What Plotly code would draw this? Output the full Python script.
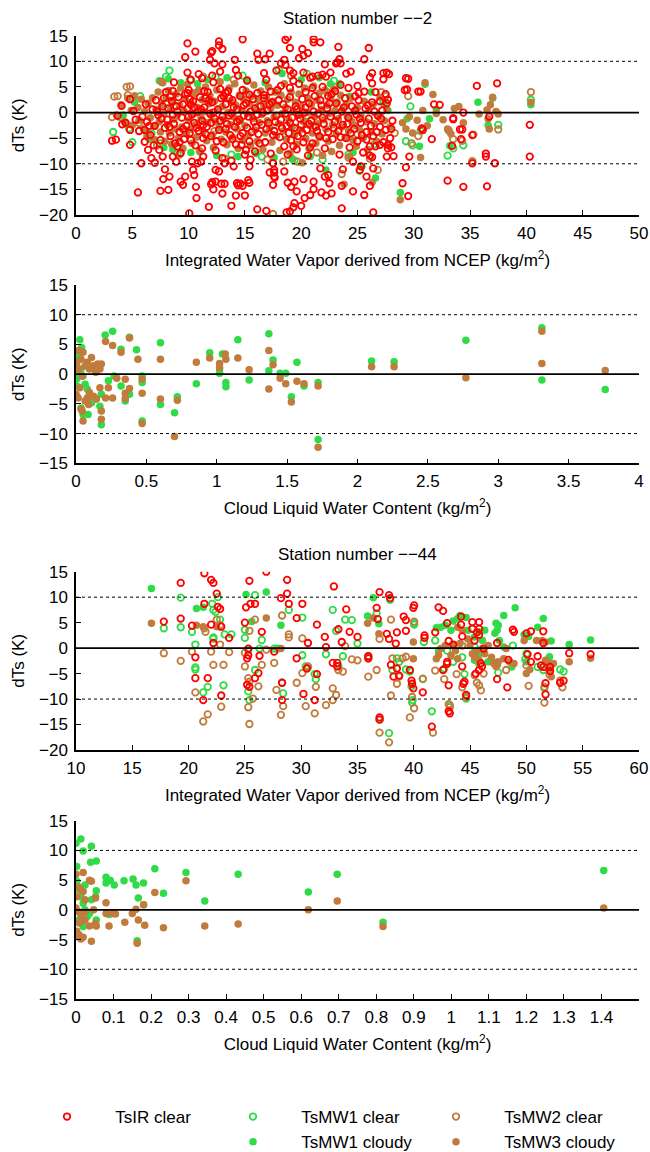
import plotly.graph_objects as go

# ---------------- DATA ----------------
# Station 2 : dTs vs Integrated Water Vapor (kg/m2)
s2_iwv_ir_clear = [
 (9.9,13.5),(12.7,13.9),(12.7,13.1),(14.8,14.3),(10.6,11.9),(9.7,10.8),(12.0,11.7),(12.1,12.0),(13.0,12.4),(14.1,10.3),
 (16.1,11.5),(16.2,10.3),(17.2,11.5),(16.8,10.4),(11.9,10.3),(12.3,9.6),(13.0,9.4),(12.8,8.0),(14.2,8.3),(14.4,7.2),
 (15.2,6.25),(10.9,7.5),(11.2,6.7),(9.9,7.8),(10.2,6.4),(12.1,7.2),(12.2,5.9),(8.7,5.9),(8.6,4.2),(8.4,3.1),
 (9.9,3.8),(10.1,2.6),(10.2,1.5),(11.4,4.2),(11.5,2.8),(12.8,4.6),(13.3,3.8),(13.6,2.8),(14.8,4.4),(15.4,3.5),
 (16.1,3.8),(16.7,2.8),(17.3,4.1),(16.7,7.7),(16.9,6.4),(4.05,1.3),(3.7,-0.65),(4.1,-2.3),(3.2,-5.5),(3.55,-5.3),
 (4.8,-3.4),(4.8,-6.3),(5.5,-15.6),(5.8,-9.9),(6.1,-3.4),(6.1,-5.7),(6.4,-7.3),(6.7,-8.9),(7.0,-9.8),(7.4,-7.3),
 (7.7,-8.6),(7.5,-15.3),(7.75,-13.0),(7.9,-11.1),(8.3,-12.5),(8.2,-15.1),(8.6,-8.6),(8.9,-9.6),(9.0,-6.6),(9.3,-7.9),
 (9.3,-13.5),(9.5,-14.1),(9.7,-12.5),(10.06,-19.7),(10.4,-11.2),(10.5,-12.2),(10.65,-14.5),(10.3,-9.6),(10.8,-9.9),(10.7,-16.7),
 (11.1,-9.6),(11.2,-7.0),(11.3,-8.6),(11.8,-18.4),(12.0,-14.0),(12.1,-13.6),(12.2,-15.0),(12.4,-13.5),(12.4,-11.2),(12.7,-11.5),
 (12.9,-13.9),(13.2,-13.9),(13.0,-15.8),(13.0,-8.9),(13.2,-9.9),(13.8,-9.4),(14.0,-10.5),(13.8,-18.2),(14.2,-16.2),(14.3,-13.8),
 (14.4,-14.2),(14.6,-13.9),(14.8,-14.3),(15.0,-16.2),(15.3,-13.2),(15.4,-13.7),(15.5,-9.2),(15.4,-10.5),(16.1,-18.9),(16.9,-19.2),
 (17.5,-9.9),(17.6,-11.2),(17.6,-12.5),(14.7,-6.3),(15.1,-7.3),
 (18.6,14.2),(18.8,14.7),(21.1,14.3),(21.1,13.7),(21.7,13.7),(23.3,12.8),(26.0,12.6),(19.0,12.6),(20.1,12.4),(20.2,11.1),
 (18.5,10.3),(18.2,9.6),(18.6,9.3),(22.1,9.4),(23.1,9.6),(23.4,10.4),(23.5,9.6),(25.6,10.4),(17.8,8.2),(19.0,8.2),
 (19.3,7.7),(20.2,7.8),(22.6,7.8),(22.2,7.0),(21.0,7.0),(21.9,7.4),(26.3,7.7),(26.1,6.9),(26.3,5.7),(27.3,7.7),
 (27.6,7.8),(27.3,6.5),(29.3,6.7),(29.2,4.4),(30.4,4.1),(25.0,5.2),(25.1,3.8),(25.6,4.1),(27.5,3.6),(27.7,2.5),
 (32.3,1.5),(33.5,-1.3),(34.4,0.0),(30.7,-3.1),(30.8,-3.4),(31.6,-5.2),(33.4,-6.5),(34.3,-3.3),(34.2,-5.2),(29.3,-10.7),
 (29.0,-13.8),(29.5,-16.3),(33.0,-13.3),(34.4,-14.5),(26.1,-14.3),(26.4,-19.5),(25.6,-16.1),(24.6,-15.4),(23.6,-18.7),
 (17.2,-11.7),(17.6,-11.7),(17.65,-12.7),(17.5,-14.1),(18.5,-11.5),(18.8,-13.7),(19.1,-14.5),(19.6,-15.4),(19.4,-13.5),(20.2,-13.0),
 (19.4,-17.7),(19.3,-18.5),(18.7,-19.5),(19.0,-19.3),(20.0,-18.2),(20.3,-16.7),(20.8,-16.1),(21.1,-14.96),(21.8,-15.6),(22.2,-16.2),
 (22.7,-15.76),(21.1,-13.5),(21.7,-10.9),(22.1,-12.5),(22.4,-12.2),(22.5,-13.8),(23.6,-14.3),(23.7,-11.1),(24.6,-9.6),(25.2,-11.2),
 (25.3,-10.5),(25.8,-12.5),(26.4,-10.9),(26.3,-8.7),(27.6,-8.6),(27.7,-6.3),(27.0,-6.3),(26.1,-6.6),(25.8,-5.3),
 (35.6,5.2),(37.4,5.7),(40.3,-2.4),(40.3,-8.6),(33.5,-1.1),(34.1,-3.3),(35.2,-4.4),(35.2,-9.9),(36.4,-8.0),(36.4,-8.6),
 (36.5,-14.4),(37.2,-9.9),(36.7,-0.8),
 (19.8,10.6),(20.6,11.6),(19.3,6.2),(20.8,6.8),(21.5,7.2),(23.2,9.8),(24.0,7.6),(24.4,8.0),(23.5,5.4),(28.0,-6.8),
 (28.2,-8.5),(29.6,-8.6),(29.4,4.5),(29.5,6.6),(27.8,7.5),(30.6,4.1),(31.8,1.6),
 (4.4,-2.0),(4.8,2.6),(5.1,0.3),(5.3,-1.4),(5.6,-3.6),(5.9,-0.8),(6.2,1.6),(6.3,-1.8),(6.6,-4.4),(6.8,0.6),
 (7.0,-2.6),(7.1,2.4),(7.3,-0.5),(7.5,-5.4),(7.7,1.2),(7.9,-3.0),(8.0,4.0),(8.1,-1.4),(8.2,0.8),(8.4,-4.6),
 (8.5,2.2),(8.7,-2.2),(8.8,-6.0),(9.0,0.2),(9.1,3.0),(9.2,-3.8),(9.4,-1.0),(9.5,1.6),(9.6,-5.2),(9.8,-2.6),
 (9.9,0.8),(10.0,4.4),(10.1,-4.0),(10.3,-0.4),(10.4,2.2),(10.5,-2.0),(10.6,-6.4),(10.8,0.2),(10.9,-3.6),(11.0,3.0),
 (11.2,-1.6),(11.3,-5.0),(11.4,1.0),(11.6,-2.8),(11.7,4.0),(11.9,-0.2),(12.0,-4.6),(12.1,2.0),(12.3,-1.2),(12.4,-7.4),
 (12.6,0.6),(12.7,-3.4),(12.9,2.8),(13.0,-0.8),(13.1,-5.8),(13.3,1.6),(13.4,-2.2),(13.5,4.2),(13.7,-4.4),(13.8,-0.2),
 (13.9,2.4),(14.1,-2.8),(14.2,-6.2),(14.3,0.6),(14.5,-1.4),(14.6,3.2),(14.8,-4.0),(14.9,-0.6),(15.1,1.8),(15.2,-3.0),
 (15.4,-5.6),(15.5,0.2),(15.7,2.6),(15.8,-1.8),(15.9,-7.6),(16.1,-0.4),(16.2,-4.2),(16.4,1.2),(16.5,-2.4),(16.7,3.4),
 (16.8,-5.8),(17.0,0.4),(17.1,-2.0),(17.3,-8.0),(17.4,2.0),(17.6,-3.6),(17.8,-0.6),(17.9,4.4),(18.1,-4.8),(18.2,-1.4),
 (18.4,1.6),(18.5,-6.6),(18.7,-2.6),(18.8,0.6),(18.9,-4.0),(19.0,3.0),(19.1,-5.4),(19.2,-1.0),(19.4,-3.0),(19.5,1.2),
 (19.6,-7.2),(19.7,-4.6),(19.8,-0.4),(20.0,-2.4),(20.1,2.6),(20.2,-5.8),(20.3,0.0),(20.5,-3.4),(20.6,-8.4),(20.7,1.8),
 (20.9,-1.6),(21.0,-6.0),(21.2,3.2),(21.3,-2.8),(21.5,-0.2),(21.6,-4.6),(21.8,1.4),(22.0,-2.2),(22.1,-7.0),(22.3,0.8),
 (22.4,-3.8),(22.6,-0.8),(22.7,3.6),(22.8,-5.2),(23.0,-1.8),(23.1,1.8),(23.3,-3.6),(23.4,-8.2),(23.6,0.2),(23.7,-2.4),
 (23.9,2.8),(24.0,-5.0),(24.2,-1.0),(24.3,-6.8),(24.5,1.2),(24.7,-3.2),(24.9,-0.4),(25.0,-5.6),(25.1,2.4),(25.3,-2.0),
 (25.5,-7.8),(25.7,0.8),(25.8,-3.8),(26.0,-1.2),(26.1,-8.4),(26.3,2.0),(26.4,-4.6),(26.6,-6.6),(26.8,-0.6),(27.0,-2.8),
 (27.2,0.4),(27.5,-3.4),(27.7,-7.0),(27.9,-5.0),(28.1,-1.6),
 (6.5,-2.6),(6.9,-6.4),(7.2,0.2),(7.6,-1.2),(7.8,2.8),(8.3,-2.8),(8.6,-0.4),(8.9,1.2),(9.2,-5.8),(9.5,-3.2),
 (9.7,3.6),(10.0,-0.8),(10.2,-5.4),(10.5,1.0),(10.7,-3.0),(11.1,0.6),(11.3,-2.4),(11.5,-4.2),(11.8,2.4),(12.0,-2.0),
 (12.2,0.0),(12.5,-5.6),(12.8,-1.6),(13.1,3.2),(13.3,-3.2),(13.6,-0.6),(13.9,-5.2),(14.0,1.0),(14.3,-1.8),(14.6,-4.6),
 (14.9,1.4),(15.0,-8.2),(15.3,-0.8),(15.6,-3.8),(15.9,0.8),(16.0,-2.8),(16.3,-6.0),(16.6,0.0),(16.9,-3.2),(17.2,1.6),
 (17.5,-4.4),(17.7,-1.8),(18.0,2.4),(18.3,-3.0),(18.6,-0.2),(18.8,-8.2),(19.0,-2.0),(19.3,-6.6),(19.6,0.6),(19.9,-1.2),
 (20.1,-4.0),(20.4,1.0),(20.7,-2.2),(20.8,-6.8),(21.1,0.2),(21.4,-3.6),(21.7,2.4),(21.9,-1.0),(22.2,-5.0),(22.5,1.8),
 (22.9,-3.0),(23.2,-0.6),(23.5,-4.8),(23.8,1.0),(24.1,-2.2),(24.4,-4.0),(24.8,0.4),(25.2,-1.2),(25.4,-4.4),(25.9,1.4),
 (26.2,-2.6),(26.5,0.2),(26.7,-3.8),(27.1,-1.2),(27.3,-5.8),(27.6,1.8),(28.0,-3.2),
 (18.2,5.2),(19.0,4.8),(19.8,5.6),(20.4,4.0),(21.0,4.8),(21.9,5.0),(22.4,3.2),(23.0,4.2),(24.2,4.8),(24.8,3.2),
 (26.6,4.0),(27.0,2.2),
]
s2_iwv_mw1_clear = [
 (3.3,-3.8),(3.9,-0.9),(4.7,-3.1),(5.0,-5.8),(5.7,3.2),(6.7,-4.1),(7.5,-6.0),(8.3,8.2),(8.0,7.0),(9.0,-8.0),
 (10.1,6.4),(11.0,-7.6),(12.4,7.0),(13.8,-8.2),(14.8,7.2),(16.5,-8.6),(18.0,8.4),(19.4,-9.4),(20.5,7.6),(21.9,-9.2),
 (22.9,6.2),(24.2,-8.2),(25.2,-11.4),(26.5,-6.2),(27.3,2.0),(29.3,-5.6),(29.7,1.2),(29.9,-6.4),(30.6,-3.6),(33.0,-8.4),
 (33.5,-7.0),(34.4,-6.4),(37.5,-2.4),(40.4,2.5),
]
s2_iwv_mw2_clear = [
 (3.2,-0.9),(3.4,3.1),(3.7,3.2),(4.5,5.0),(4.8,5.1),(4.6,3.4),(5.6,-2.0),(6.4,-4.4),(7.2,-6.4),(7.6,6.0),
 (8.4,3.4),(9.2,-8.2),(10.6,3.8),(11.3,7.0),(12.3,-3.6),(13.2,-9.0),(14.0,6.4),(15.1,-7.4),(16.2,1.2),(17.0,-9.2),
 (17.5,-19.8),(18.4,-9.6),(19.1,7.2),(19.7,-9.6),(20.5,-0.6),(21.4,-7.8),(22.3,4.0),(23.6,-12.0),(24.2,-8.8),(25.0,-4.2),
 (26.1,-9.0),(26.8,-11.2),(27.1,4.0),(27.5,3.2),(28.3,-4.0),(29.5,3.2),(29.8,-6.0),(30.4,-4.6),(33.1,-3.5),(33.5,-5.2),
 (34.3,-5.5),(35.2,-9.5),(35.3,-4.3),(37.5,-3.3),(40.4,4.0),
]
s2_iwv_mw1_cloudy = [
 (4.2,-0.5),(5.2,2.0),(6.5,-5.2),(7.4,6.2),(7.8,-6.8),(8.2,6.6),(8.6,-7.2),(9.3,5.8),(10.2,-7.8),(10.8,5.6),
 (11.7,6.4),(12.5,-8.4),(13.4,6.8),(14.4,-8.6),(15.2,6.2),(16.0,-8.0),(16.8,5.8),(17.6,-8.8),(18.3,7.6),(19.2,-9.0),
 (20.0,6.4),(20.8,-8.6),(21.6,6.8),(22.2,-11.2),(22.6,5.6),(23.4,5.6),(24.3,3.2),(24.6,-7.8),(25.4,-10.6),(26.2,4.0),
 (26.6,-12.8),(27.4,1.6),(27.7,0.4),(28.8,-15.6),(29.4,-1.2),(30.5,-6.6),(31.0,5.5),(31.4,-1.2),(32.0,0.6),(33.2,-6.5),
 (35.7,2.0),(36.6,-2.5),(37.0,2.8),(40.4,1.5),
]
s2_iwv_mw3_cloudy = [
 (3.6,-0.5),(4.0,1.5),(4.3,-1.8),(4.6,2.8),(4.9,0.4),(5.0,-2.5),(5.2,3.3),(5.5,1.0),(5.6,-1.5),(5.8,2.6),
 (6.0,-3.2),(6.1,0.2),(6.3,-4.6),(6.4,1.8),(6.6,-1.0),(6.8,2.9),(6.9,-2.7),(7.0,-5.3),(7.1,0.6),(7.3,4.0),
 (7.4,-1.8),(7.5,-3.8),(7.6,1.5),(7.7,5.8),(7.8,-0.3),(7.9,-5.6),(8.0,2.8),(8.1,-2.4),(8.2,4.3),(8.3,-4.0),
 (8.4,0.8),(8.5,-6.2),(8.6,2.0),(8.7,-1.3),(8.8,-3.2),(8.9,3.6),(9.0,-0.5),(9.1,-5.0),(9.2,1.4),(9.3,4.8),
 (9.4,-2.8),(9.5,-7.0),(9.6,0.3),(9.7,2.7),(9.8,-4.2),(9.9,5.5),(10.0,-1.5),(10.1,-3.3),(10.2,1.9),(10.3,-6.0),
 (10.4,3.8),(10.5,-0.2),(10.6,-2.4),(10.7,-4.8),(10.8,1.0),(10.9,4.4),(11.0,-7.5),(11.1,-1.0),(11.2,2.5),(11.3,-3.6),
 (11.4,0.2),(11.5,5.0),(11.6,-5.5),(11.7,-2.0),(11.8,1.7),(11.9,3.3),(12.0,-0.6),(12.1,-4.3),(12.2,-6.8),(12.3,2.2),
 (12.4,-1.8),(12.5,4.4),(12.6,0.5),(12.7,-3.0),(12.8,6.0),(12.9,-5.2),(13.0,1.2),(13.1,-1.3),(13.2,3.0),(13.3,-3.8),
 (13.4,-6.3),(13.5,0.0),(13.6,4.8),(13.7,-2.4),(13.8,2.0),(13.9,-4.8),(14.0,-0.8),(14.1,5.6),(14.2,1.4),(14.3,-3.2),
 (14.4,-7.0),(14.5,3.4),(14.6,-1.6),(14.7,0.4),(14.8,-5.4),(14.9,2.6),(15.0,-2.6),(15.1,4.2),(15.2,-0.2),(15.3,-4.4),
 (15.4,1.8),(15.5,-6.4),(15.6,3.2),(15.7,-1.2),(15.8,5.4),(15.9,-3.4),(16.0,0.6),(16.1,-5.6),(16.2,2.4),(16.3,-2.0),
 (16.4,4.2),(16.5,-0.4),(16.6,-7.2),(16.7,1.4),(16.8,-4.0),(16.9,3.0),(17.0,-1.6),(17.1,5.0),(17.2,-3.0),(17.3,0.8),
 (17.4,-5.8),(17.5,2.2),(17.6,-0.8),(17.7,4.0),(17.8,-4.6),(17.9,1.4),(18.0,-2.2),(18.1,-7.4),(18.2,3.4),(18.3,-0.2),
 (18.4,-3.6),(18.5,5.6),(18.6,1.0),(18.7,-5.2),(18.8,2.6),(18.9,-1.4),(19.0,-8.0),(19.1,4.0),(19.2,-2.8),(19.3,0.4),
 (19.4,-4.4),(19.5,2.0),(19.6,-6.2),(19.7,-0.6),(19.8,3.6),(19.9,-3.4),(20.0,1.2),(20.1,-9.8),(20.2,-1.8),(20.3,4.8),
 (20.4,-5.0),(20.5,0.0),(20.6,2.8),(20.7,-7.0),(20.8,-2.6),(20.9,1.6),(21.0,-4.0),(21.1,5.2),(21.2,-0.8),(21.3,-6.0),
 (21.4,2.4),(21.5,-2.2),(21.6,3.8),(21.7,-4.8),(21.8,0.6),(21.9,-8.4),(22.0,-1.4),(22.1,4.4),(22.2,-3.2),(22.3,1.4),
 (22.4,-5.6),(22.5,-0.2),(22.6,2.8),(22.7,-7.6),(22.8,-2.4),(22.9,4.6),(23.0,0.4),(23.1,-4.2),(23.2,2.0),(23.3,-1.2),
 (23.4,-6.4),(23.5,3.4),(23.6,-2.8),(23.7,0.8),(23.8,-14.0),(23.9,-4.8),(24.0,1.6),(24.1,-0.8),(24.2,-3.6),(24.3,-8.6),
 (24.4,2.8),(24.5,-1.8),(24.6,-5.4),(24.7,0.2),(24.8,-2.6),(24.9,-6.6),(25.0,1.0),(25.2,-3.4),(25.3,-0.6),(25.5,-5.0),
 (25.6,2.2),(25.8,-1.8),(25.9,-7.2),(26.0,0.4),(26.2,-3.8),(26.3,-13.6),(26.4,1.6),(26.5,-2.2),(26.7,-5.6),(26.9,-0.8),
 (27.0,3.0),(27.2,-4.2),(27.4,-1.6),(27.6,0.6),(27.8,-6.4),(27.9,-2.8),(28.8,-17.0),(29.0,-2.0),(29.3,-3.2),(29.6,-0.8),
 (29.9,-4.0),(30.3,-1.5),(30.6,-8.8),(30.8,0.4),(31.0,5.8),(31.2,-2.6),(31.7,3.5),(32.0,-0.2),(32.6,-1.4),(33.0,-3.2),
 (33.3,-4.2),(33.6,0.8),(34.0,1.2),(34.4,-2.0),(35.8,-0.3),(36.5,0.5),(36.6,-1.2),(36.7,-3.2),(36.8,1.5),(37.0,3.0),
 (37.3,0.2),(37.5,-0.3),(40.4,2.0),
]

# Station 2 : dTs vs Cloud Liquid Water Content (kg/m2)
s2_clw_mw1_cloudy = [
 (0.015,3.4),(0.027,5.8),(0.04,4.5),(0.0,1.4),(0.006,0.3),(0.006,-0.8),(0.006,-2.0),(0.006,-3.7),(0.02,2.5),(0.036,0.85),
 (0.05,-0.3),(0.065,-1.7),(0.08,-2.5),(0.095,-3.7),(0.11,-4.8),(0.036,-5.7),(0.05,-6.8),(0.086,-6.8),(0.17,-5.4),(0.18,-8.5),
 (0.207,6.6),(0.26,7.2),(0.32,4.2),(0.14,-4.2),(0.18,-3.4),(0.23,-1.1),(0.27,-0.3),(0.32,-2.0),(0.35,-4.5),(0.38,6.2),
 (0.43,4.1),(0.47,-0.3),(0.47,-1.4),(0.47,-7.9),(0.38,-3.4),(0.6,5.3),(0.6,-5.1),(0.70,-6.5),(0.72,-3.8),(0.855,-1.6),
 (0.95,3.6),(1.02,0.74),(1.02,0.17),(1.04,3.4),(1.065,-1.4),(1.065,-2.1),(1.15,5.8),(1.23,-1.0),(1.37,6.8),(1.37,0.57),
 (1.40,2.4),(1.45,0.17),(1.49,0.17),(1.53,-3.8),(1.57,2.0),(1.62,-2.0),(1.72,-1.4),(1.72,-11.0),(2.10,2.2),(2.26,2.1),
 (2.77,5.7),(3.31,7.8),(3.31,-1.0),(3.76,-2.6),
]
s2_clw_mw3_cloudy = [
 (0.0,-3.4),(0.015,-4.0),(0.027,-2.3),(0.044,-0.3),(0.02,0.85),(0.006,2.0),(0.036,2.5),(0.05,3.7),(0.065,1.4),(0.08,2.0),
 (0.095,0.85),(0.11,2.8),(0.124,1.4),(0.14,0.3),(0.154,1.7),(0.17,0.85),(0.18,1.7),(0.02,4.0),(0.036,-5.9),(0.044,-6.2),
 (0.05,-7.9),(0.065,-4.5),(0.08,-4.0),(0.095,-3.1),(0.09,-5.1),(0.124,-3.7),(0.145,-4.2),(0.17,-2.3),(0.18,-6.2),(0.18,-7.6),
 (0.21,5.5),(0.21,-4.0),(0.26,4.8),(0.26,-4.0),(0.23,-2.3),(0.29,-0.7),(0.32,3.7),(0.35,-0.85),(0.35,-3.2),(0.35,-4.1),
 (0.38,6.1),(0.38,-2.4),(0.44,2.5),(0.47,-0.85),(0.47,-3.2),(0.47,-8.3),(0.6,2.5),(0.6,-4.2),(0.70,-10.5),(0.72,-4.4),
 (0.855,2.0),(0.95,2.7),(1.02,1.8),(1.02,1.1),(1.06,3.4),(1.065,2.5),(1.15,2.7),(1.23,0.74),(1.37,4.0),(1.37,-2.5),
 (1.40,1.6),(1.45,-0.7),(1.49,-1.6),(1.53,-4.7),(1.57,-1.2),(1.62,-1.6),(1.72,-2.0),(1.72,-12.3),(2.10,1.25),(2.26,1.25),
 (2.77,-0.6),(3.31,7.2),(3.31,1.8),(3.76,0.6),
]

# Station 44 : dTs vs Integrated Water Vapor (kg/m2)
s44_iwv_ir_clear = [
 (19.3,12.8),(17.8,5.2),(19.3,5.8),(20.3,4.4),(20.6,-1.8),(20.6,-5.9),(21.4,14.7),(21.4,8.7),(22.0,13.4),(22.2,12.8),
 (22.5,10.7),(22.6,8.1),(22.8,7.7),(22.0,4.6),(22.2,1.0),(21.7,-5.9),(21.3,-10.2),(22.9,4.2),(23.6,2.0),(22.9,-9.3),
 (25.0,5.0),(25.4,13.2),(25.5,8.7),(25.9,8.7),(25.1,8.0),(25.3,-0.1),(25.3,-1.4),(25.2,-2.0),(25.2,-7.2),(25.4,-7.6),
 (25.9,-5.9),(26.2,-4.9),(26.3,-1.5),(26.5,3.2),(26.9,15.0),(28.75,13.4),(28.75,10.7),(28.2,9.8),(28.9,8.7),(27.6,-0.7),
 (28.3,-6.8),(28.3,-10.2),(29.6,5.9),(29.6,-2.0),(30.1,8.7),(30.5,-4.0),(30.2,-9.0),(30.6,1.0),(31.4,4.6),(31.4,-5.1),
 (31.2,-10.2),(32.1,2.2),(32.2,0.2),(32.9,12.1),(32.8,-2.9),(33.2,-2.9),(33.2,-3.6),(33.3,3.7),(34.0,7.6),(33.6,1.2),
 (34.3,3.2),(35.0,2.2),(35.96,-1.6),(35.96,-2.0),(36.7,7.9),(36.8,5.7),(36.96,11.0),(36.96,-13.6),(36.96,-14.0),(37.6,2.8),
 (37.8,1.8),(37.8,10.4),(37.9,9.8),(37.97,-3.3),(38.2,-5.6),(38.5,3.1),(38.4,0.9),(38.5,-4.0),(38.7,-5.4),(39.1,6.2),
 (39.3,5.5),(39.3,3.4),(39.65,-4.3),(39.8,-6.4),(39.85,-7.0),(39.96,-7.9),(40.03,8.4),(39.96,7.9),(40.8,-8.7),(40.95,2.5),
 (40.95,2.0),(41.6,-15.4),(41.9,3.1),(42.2,8.0),(42.6,7.3),(42.6,-4.3),(42.96,-2.7),(42.96,-3.1),(42.96,4.9),(43.1,1.4),
 (43.1,-7.3),(43.1,-12.4),(43.2,-12.8),(43.5,0.7),(44.2,6.2),(44.2,4.6),(44.3,2.3),(44.3,-3.6),(44.5,-6.6),(44.4,-7.0),
 (44.65,-9.2),(45.2,5.1),(45.2,3.8),(45.6,3.1),(45.4,1.5),(45.8,5.1),(45.8,3.8),(45.8,2.6),(45.5,-5.0),(45.8,-4.3),
 (45.96,-3.0),(46.06,-3.6),(46.2,-0.1),(47.4,1.0),(47.4,-6.1),(48.3,-7.7),(48.4,-2.3),(48.8,3.6),(48.9,3.2),(50.0,2.9),
 (50.4,3.3),(50.1,-1.2),(50.4,-2.7),(51.0,-1.6),(51.3,-3.4),(51.5,3.3),(51.5,1.0),(51.5,-3.7),(51.7,-6.9),(51.7,-9.1),
 (52.1,-3.7),(52.1,-4.5),(53.0,-6.8),(53.3,-6.4),(53.8,-1.0),(55.7,-1.2),
]
s44_iwv_mw1_clear = [
 (17.8,3.9),(19.3,9.9),(19.3,4.1),(20.3,3.2),(20.6,0.7),(20.6,-3.8),(20.6,-4.2),(21.3,-8.7),(21.7,-7.6),(22.1,8.7),
 (22.2,7.5),(22.4,7.1),(22.2,2.1),(22.2,1.8),(22.6,10.0),(22.8,5.6),(23.1,-7.3),(23.2,2.7),(23.8,2.7),(25.0,3.6),
 (25.0,2.0),(25.3,-0.4),(25.3,-8.5),(25.4,-10.2),(25.9,10.4),(25.9,-4.3),(26.3,-0.1),(26.5,1.6),(27.6,-0.1),(27.9,-0.1),
 (28.3,-6.8),(28.4,-8.9),(28.9,7.5),(30.1,6.0),(30.1,-1.4),(30.4,-3.6),(30.6,-3.8),(31.2,-5.1),(31.3,-6.1),(32.2,-1.2),
 (32.8,7.5),(33.1,3.4),(33.3,-3.5),(33.7,-1.6),(33.9,5.6),(34.5,5.5),(35.0,0.9),(35.96,-1.6),(35.96,-2.0),(36.7,6.8),
 (36.96,-14.1),(37.8,-16.7),(37.9,9.5),(38.1,-4.3),(38.5,-2.0),(38.7,-2.7),(39.3,-4.2),(39.65,-4.6),(39.8,-7.5),(39.85,-10.7),
 (39.9,-10.2),(40.03,4.9),(40.03,4.6),(40.8,-6.1),(40.9,1.2),(41.9,1.5),(41.6,-12.4),(42.7,-4.0),(42.96,-0.5),(43.2,-11.2),
 (43.5,-2.7),(44.3,-1.8),(44.5,-5.1),(44.65,-9.9),(45.4,0.2),(45.4,-1.1),(45.8,-3.0),(47.3,-2.9),(47.5,-4.8),(48.8,0.5),
 (49.9,-2.2),(50.0,-1.1),(51.0,-3.7),(51.5,-4.3),(51.6,-7.9),(53.0,-4.2),(53.3,-4.6),
]
s44_iwv_mw2_clear = [
 (17.8,-1.0),(19.3,-2.5),(20.3,-0.7),(20.6,-8.7),(21.3,-14.4),(21.7,-13.0),(21.4,3.9),(21.5,3.2),(22.0,-0.7),(22.2,-3.3),
 (22.5,5.6),(22.8,4.5),(22.8,0.7),(23.1,-3.3),(22.9,-11.5),(23.6,-0.8),(25.0,-0.9),(25.0,-3.6),(25.3,-5.9),(25.4,-6.6),
 (25.3,-11.6),(25.4,-14.9),(25.4,3.4),(25.9,5.6),(25.7,-9.9),(26.2,-7.5),(26.5,-3.3),(26.9,-0.3),(27.6,-2.9),(27.8,-8.2),
 (28.2,-13.1),(28.3,6.4),(28.4,-11.4),(28.9,2.7),(28.9,2.1),(29.6,-6.8),(30.1,1.9),(30.1,-4.9),(30.4,-11.4),(30.6,-3.6),
 (31.2,-12.8),(31.3,-7.6),(32.2,-11.2),(32.8,-7.9),(33.1,-9.2),(32.8,-10.2),(33.3,-4.3),(33.7,-4.6),(33.9,0.4),(34.5,-2.2),
 (35.0,-2.4),(35.96,-5.6),(36.7,-4.3),(36.96,1.8),(36.96,-16.6),(37.8,-18.5),(37.97,5.6),(37.97,-9.3),(38.1,-2.0),(38.5,-7.0),
 (38.7,-5.6),(39.0,-2.0),(39.3,-1.7),(39.65,-13.6),(39.85,-9.6),(40.03,5.2),(40.03,-11.8),(40.8,-6.0),(41.7,-16.6),(41.9,-4.4),
 (42.7,-6.1),(43.1,-11.0),(43.2,-11.6),(43.8,-5.1),(44.3,0.5),(44.3,-7.7),(44.65,-9.6),(45.4,-5.3),(45.6,-6.8),(45.8,-7.3),
 (45.96,-8.3),(46.2,-5.0),(47.4,-3.3),(48.2,-4.3),(50.0,-3.4),(50.2,-7.4),(51.6,-10.7),(51.6,-7.6),(52.05,-5.2),(53.0,-6.4),
 (53.2,-7.7),
]
s44_iwv_mw1_cloudy = [
 (16.7,11.7),(20.7,7.8),(21.3,8.0),(25.1,10.5),(26.9,11.0),(28.2,4.5),(25.6,5.2),(36.4,9.9),(35.9,6.3),(36.9,4.8),
 (42.0,4.0),(42.4,4.1),(42.8,4.5),(42.2,-0.5),(43.3,3.5),(43.5,5.3),(43.9,5.8),(44.1,6.4),(44.65,6.0),(44.8,3.5),
 (45.4,2.2),(45.8,3.2),(46.3,3.5),(46.1,1.5),(47.3,4.9),(47.5,4.5),(47.4,3.5),(47.2,2.9),(47.99,6.4),(49.0,7.9),
 (49.8,2.6),(50.2,2.3),(51.0,4.1),(51.5,5.8),(52.05,-1.7),(52.2,1.4),(53.8,0.7),(55.7,1.6),(50.0,-2.7),(45.4,-2.4),
 (45.8,-1.1),(46.6,-2.7),(47.6,1.5),(47.99,0.2),(48.7,-3.7),
]
s44_iwv_mw3_cloudy = [
 (16.7,4.9),(20.7,4.5),(21.3,4.2),(22.5,4.2),(26.9,5.9),(28.2,-0.1),(35.9,4.9),(36.4,5.9),(36.9,2.8),(39.96,1.2),
 (39.96,-2.1),(42.0,-2.1),(42.2,-1.4),(42.4,-0.1),(42.8,0.5),(43.3,-1.4),(43.5,0.5),(43.7,-0.5),(43.9,-2.1),(44.1,0.9),
 (43.9,4.1),(44.3,3.5),(44.8,1.8),(44.99,0.5),(45.2,-1.1),(45.4,-1.8),(45.6,-0.5),(45.8,-2.4),(46.1,-0.1),(46.3,-1.1),
 (46.6,0.5),(46.9,-1.8),(47.1,-3.0),(47.3,-3.6),(47.5,-2.7),(47.99,-2.1),(48.2,-0.1),(48.5,-2.7),(48.9,-3.0),(49.8,1.5),
 (50.0,-5.0),(50.3,-4.2),(50.9,1.5),(51.4,1.5),(51.7,1.2),(51.7,-2.4),(52.0,-3.0),(52.1,-4.3),(52.2,-5.6),(52.4,-3.0),
 (53.8,-2.7),(55.7,-2.0),
]

# Station 44 : dTs vs Cloud Liquid Water Content (kg/m2)
s44_clw_mw1_cloudy = [
 (0.0,11.2),(0.013,11.9),(0.019,9.9),(0.041,10.7),(0.002,7.3),(0.039,8.0),(0.054,8.2),(0.002,4.8),(0.008,3.4),(0.013,2.2),
 (0.019,1.1),(0.024,0.0),(0.03,-1.1),(0.008,-1.7),(0.019,-2.8),(0.024,4.2),(0.054,3.2),(0.052,2.2),(0.041,1.7),(0.036,-0.6),
 (0.054,-1.7),(0.08,5.5),(0.091,5.0),(0.08,4.5),(0.102,4.2),(0.088,-0.8),(0.128,4.9),(0.152,5.2),(0.16,4.2),(0.18,4.5),
 (0.166,2.0),(0.18,0.84),(0.163,-5.2),(0.21,6.9),(0.233,2.8),(0.293,6.3),(0.343,1.5),(0.432,6.0),(0.619,3.0),(0.696,6.0),
 (0.818,-2.1),(1.406,6.6),
]
s44_clw_mw3_cloudy = [
 (0.0,6.0),(0.019,6.3),(0.002,2.2),(0.008,3.8),(0.013,3.4),(0.019,3.1),(0.024,1.7),(0.036,5.0),(0.041,4.8),(0.052,2.0),
 (0.0,0.3),(0.006,-0.3),(0.013,-0.8),(0.024,-0.3),(0.047,0.0),(0.008,-2.2),(0.013,-1.95),(0.024,-1.7),(0.036,-2.7),(0.052,-2.3),
 (0.054,-2.7),(0.002,-3.6),(0.008,-4.2),(0.013,-4.9),(0.019,-4.6),(0.002,-4.5),(0.041,-5.3),(0.08,1.2),(0.088,-2.7),(0.08,-0.6),
 (0.097,-0.6),(0.105,-0.7),(0.13,-2.1),(0.15,-0.6),(0.16,0.1),(0.166,-1.7),(0.18,0.84),(0.183,-2.6),(0.163,-5.6),(0.21,2.9),
 (0.233,-3.0),(0.293,4.9),(0.343,-2.7),(0.432,-2.4),(0.619,0.0),(0.696,1.5),(0.818,-2.8),(1.406,0.3),
]

panel_titles = ["Station number \u2212\u22122", "Station number \u2212\u221244"]
iwv_label = "Integrated Water Vapor derived from NCEP (kg/m<sup>2</sup>)"
clw_label = "Cloud Liquid Water Content (kg/m<sup>2</sup>)"
ylabel = "dTs (K)"

# ---------------- STYLE ----------------
W, H = 650, 1152
FONT = "Liberation Sans, Arial, Helvetica, sans-serif"
FS = 17
RED = "#ff0000"
GREEN = "#2fdc47"
BROWN = "#c17b3d"

def py(pix):  # pixel from top -> paper
    return 1 - pix / H

xdom = [76 / W, 639 / W]
ydoms = [
    [py(215), py(35.7)],
    [py(463.3), py(285)],
    [py(750), py(571.7)],
    [py(999), py(820.7)],
]
xranges = [[0, 50], [0, 4], [10, 60], [0, 1.5]]
xdticks = [5, 0.5, 5, 0.1]
yranges = [[-20, 15], [-15, 15], [-20, 15], [-15, 15]]
xlabels = [iwv_label, clw_label, iwv_label, clw_label]

fig = go.Figure()

def add(pts, name, color, filled, k, legend, show):
    xs = [p[0] for p in pts]
    ys = [p[1] for p in pts]
    if filled:
        marker = dict(symbol="circle", size=7.5, color=color, line=dict(width=0))
    else:
        marker = dict(symbol="circle-open", size=6.5, color=color, line=dict(width=1.8, color=color))
    fig.add_trace(go.Scatter(
        x=xs, y=ys, mode="markers", name=name, marker=marker,
        xaxis="x" if k == 1 else f"x{k}", yaxis="y" if k == 1 else f"y{k}",
        legend=legend, showlegend=show, legendgroup=name, hoverinfo="skip"))

nbsp = "\u00a0" * 6
# panel 1
add(s2_iwv_mw1_clear, nbsp + "TsMW1 clear", GREEN, False, 1, "legend2", True)
add(s2_iwv_mw1_cloudy, nbsp + "TsMW1 cloudy", GREEN, True, 1, "legend2", True)
add(s2_iwv_mw2_clear, nbsp + "TsMW2 clear", BROWN, False, 1, "legend3", True)
add(s2_iwv_mw3_cloudy, nbsp + "TsMW3 cloudy", BROWN, True, 1, "legend3", True)
add(s2_iwv_ir_clear, nbsp + "TsIR clear", RED, False, 1, "legend", True)
# panel 2
add(s2_clw_mw1_cloudy, nbsp + "TsMW1 cloudy", GREEN, True, 2, "legend2", False)
add(s2_clw_mw3_cloudy, nbsp + "TsMW3 cloudy", BROWN, True, 2, "legend3", False)
# panel 3
add(s44_iwv_mw1_clear, nbsp + "TsMW1 clear", GREEN, False, 3, "legend2", False)
add(s44_iwv_mw1_cloudy, nbsp + "TsMW1 cloudy", GREEN, True, 3, "legend2", False)
add(s44_iwv_mw2_clear, nbsp + "TsMW2 clear", BROWN, False, 3, "legend3", False)
add(s44_iwv_mw3_cloudy, nbsp + "TsMW3 cloudy", BROWN, True, 3, "legend3", False)
add(s44_iwv_ir_clear, nbsp + "TsIR clear", RED, False, 3, "legend", False)
# panel 4
add(s44_clw_mw1_cloudy, nbsp + "TsMW1 cloudy", GREEN, True, 4, "legend2", False)
add(s44_clw_mw3_cloudy, nbsp + "TsMW3 cloudy", BROWN, True, 4, "legend3", False)

layout = dict(
    width=W, height=H, margin=dict(l=0, r=0, t=0, b=0, pad=0, autoexpand=False),
    paper_bgcolor="white", plot_bgcolor="white",
    font=dict(family=FONT, size=FS, color="black"),
    shapes=[], annotations=[],
)
for i in range(4):
    k = i + 1
    xa = "xaxis" if k == 1 else f"xaxis{k}"
    ya = "yaxis" if k == 1 else f"yaxis{k}"
    xr = "x" if k == 1 else f"x{k}"
    yr = "y" if k == 1 else f"y{k}"
    layout[xa] = dict(
        domain=xdom, anchor=yr, range=xranges[i], dtick=xdticks[i], tick0=0,
        showgrid=False, zeroline=False, showline=True, linecolor="black", linewidth=1.5,
        ticks="inside", ticklen=5, tickwidth=1.3, tickcolor="black",
        tickfont=dict(size=FS), ticklabelstandoff=2, automargin=False,
        title=dict(text=xlabels[i], font=dict(size=FS), standoff=12),
    )
    layout[ya] = dict(
        domain=ydoms[i], anchor=xr, range=yranges[i], dtick=5,
        showgrid=False, zeroline=False, showline=True, linecolor="black", linewidth=1.5,
        ticks="inside", ticklen=5, tickwidth=1.3, tickcolor="black",
        tickfont=dict(size=FS), ticklabelstandoff=3, automargin=False,
        title=dict(text=ylabel, font=dict(size=FS), standoff=10),
    )
    for yv in (10, -10):
        layout["shapes"].append(dict(type="line", xref=f"{xr} domain", yref=yr, x0=0, x1=1, y0=yv, y1=yv,
                                     line=dict(color="black", width=1, dash="dot"), layer="above"))
    layout["shapes"].append(dict(type="line", xref=f"{xr} domain", yref=yr, x0=0, x1=1, y0=0, y1=0,
                                 line=dict(color="black", width=1.8), layer="above"))

for t, top in zip(panel_titles, [ydoms[0][1], ydoms[2][1]]):
    layout["annotations"].append(dict(text=t, xref="paper", yref="paper", x=(xdom[0] + xdom[1]) / 2,
                                      y=top + 6 / H, xanchor="center", yanchor="bottom", showarrow=False,
                                      font=dict(size=FS)))

leg_common = dict(orientation="v", xanchor="left", yanchor="top", bgcolor="rgba(0,0,0,0)",
                  font=dict(size=FS), itemwidth=30, tracegroupgap=0, traceorder="normal")
layout["legend"] = dict(x=47 / W, y=py(1099), **leg_common)
layout["legend2"] = dict(x=233 / W, y=py(1099), **leg_common)
layout["legend3"] = dict(x=436 / W, y=py(1099), **leg_common)

fig.update_layout(**layout)
fig.write_html("out.html", config={"displayModeBar": False},
               post_script="document.body.style.margin='0px';document.body.style.overflow='hidden';")
